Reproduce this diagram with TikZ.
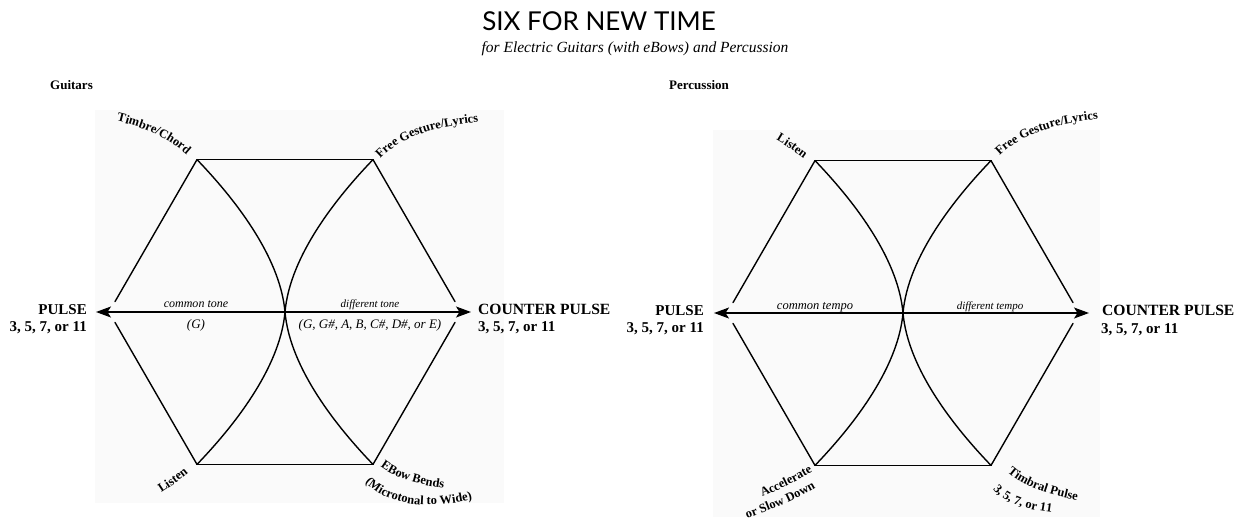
\documentclass[tikz,border=0pt]{standalone}
\usepackage{fontspec}
\setmainfont{Liberation Serif}
\newfontfamily\titlefont{Lato}
\usetikzlibrary{arrows.meta,decorations.text,calc}
\newcommand\lblfont{\bfseries\fontsize{12.5}{14}\selectfont}
\definecolor{bgc}{gray}{0.98}
\tikzset{
  edge/.style={line width=1.4pt, line cap=round},
  axis/.style={line width=1.4pt,
    {Stealth[length=15pt,width=11pt,inset=3.5pt]}-{Stealth[length=15pt,width=11pt,inset=3.5pt]}},
  pulse/.style={font=\bfseries\fontsize{15}{17}\selectfont, inner sep=0pt},
  tonelbl/.style={font=\itshape\fontsize{12}{14}\selectfont, inner sep=0pt, anchor=base},
  difflbl/.style={font=\itshape\fontsize{11}{13}\selectfont, inner sep=0pt, anchor=base},
  curvlbl/.style={decorate, decoration={text along path, text align=center, text={#1}}},
  curvlblL/.style={decorate, decoration={text along path, text align=left, text={#1}}},
  hexfig/.pic={
    \coordinate (-c) at (0,0);
    \coordinate (-tl) at (-88,152.4);
    \coordinate (-tr) at (88,152.4);
    \coordinate (-l) at (-176,0);
    \coordinate (-r) at (176,0);
    \coordinate (-bl) at (-88,-152.4);
    \coordinate (-br) at (88,-152.4);
    \coordinate (-al) at (-189,0);
    \coordinate (-ar) at (186,0);
    \draw[edge] (-tl) -- (-tr);
    \draw[edge] (-bl) -- (-br);
    \draw[edge, shorten >=12pt] (-tl) -- (-l);
    \draw[edge, shorten >=12pt] (-bl) -- (-l);
    \draw[edge, shorten >=12pt] (-tr) -- (-r);
    \draw[edge, shorten >=12pt] (-br) -- (-r);
    \draw[edge] (-tl) .. controls ($(-c)+(-53,116)$) and ($(-c)+(-5,57)$) .. (-c)
                      .. controls ($(-c)+(-5,-57)$) and ($(-c)+(-53,-116)$) .. (-bl);
    \draw[edge] (-tr) .. controls ($(-c)+(53,116)$) and ($(-c)+(5,57)$) .. (-c)
                      .. controls ($(-c)+(5,-57)$) and ($(-c)+(53,-116)$) .. (-br);
    \draw[axis] (-al) -- (-ar);
  }
}
\begin{document}
\begin{tikzpicture}[x=1pt,y=1pt]
\useasboundingbox (0,0) rectangle (1246,-517);
\fill[bgc] (95,-110) rectangle (504,-503);
\fill[bgc] (713,-130) rectangle (1100,-517);

% titles
\node[anchor=base, inner sep=0pt] (title) at (599,-30) {\titlefont\fontsize{26}{30}\selectfont SIX FOR NEW TIME};
\node[anchor=base, inner sep=0pt] (sub) at (635,-52) {\itshape\fontsize{15.5}{18}\selectfont for Electric Guitars (with eBows) and Percussion};
\node[anchor=base west, inner sep=0pt] (gtr) at (50,-89) {\bfseries\fontsize{13}{15}\selectfont Guitars};
\node[anchor=base west, inner sep=0pt] (perc) at (669,-89) {\bfseries\fontsize{13}{15}\selectfont Percussion};

% ---------- Guitars ----------
\pic (g) at (285,-312) {hexfig};
\node[pulse, anchor=base east] (gp) at (87,-314) {PULSE};
\node[pulse, anchor=base east] (gpn) at (87,-331) {3, 5, 7, or 11};
\node[pulse, anchor=base west] (gcp) at (478,-314) {\fontsize{15.6}{17}\selectfont COUNTER PULSE};
\node[pulse, anchor=base west] (gcpn) at (478,-331) {3, 5, 7, or 11};
\node[tonelbl] (gct) at (196,-307) {common tone};
\node[difflbl] (gdt) at (370,-307) {different tone};
\node[tonelbl, font=\itshape\fontsize{13}{15}\selectfont] (gg) at (196,-328) {(G)};
\node[tonelbl, font=\itshape\fontsize{13}{15}\selectfont] (gnotes) at (370,-328) {(G, G\#, A, B, C\#, D\#, or E)};

\path[curvlbl={|\lblfont|Timbre/Chord}] (108,-119) .. controls (146,-127) and (172,-139) .. (193,-161);
\path[curvlbl={|\lblfont|Free Gesture/Lyrics}] (374,-166) .. controls (394,-140) and (428,-126) .. (488,-121);
\path[curvlbl={|\lblfont|Listen}] (153,-498) .. controls (167,-489) and (181,-480) .. (196,-467);
\path[curvlbl={|\lblfont|EBow Bends}] (374,-461) .. controls (390,-476) and (412,-485) .. (452,-489);
\path[curvlbl={|\lblfont|(Microtonal to Wide)}] (356,-472) .. controls (376,-502) and (420,-515) .. (486,-496);

% ---------- Percussion ----------
\pic (p) at (903,-313) {hexfig};
\node[pulse, anchor=base east] (pp) at (704,-315) {PULSE};
\node[pulse, anchor=base east] (ppn) at (704,-332) {3, 5, 7, or 11};
\node[pulse, anchor=base west] (pcp) at (1102,-315) {\fontsize{15.6}{17}\selectfont COUNTER PULSE};
\node[pulse, anchor=base west] (pcpn) at (1101,-333) {3, 5, 7, or 11};
\node[tonelbl, font=\itshape\fontsize{12.5}{14}\selectfont] (pct) at (815,-309) {common tempo};
\node[difflbl] (pdt) at (990,-309) {different tempo};

\path[curvlbl={|\lblfont|Listen}] (767,-135) .. controls (783,-143) and (797,-153) .. (812,-165);
\path[curvlbl={|\lblfont|Free Gesture/Lyrics}] (993,-163) .. controls (1013,-138) and (1049,-123) .. (1108,-118);
\path[curvlbl={|\lblfont|Accelerate}] (754,-500) .. controls (775,-492) and (797,-482) .. (820,-467);
\path[curvlbl={|\lblfont|or Slow Down}] (738,-522) .. controls (763,-513) and (795,-501) .. (824,-483);
\path[curvlbl={|\lblfont|Timbral Pulse}] (998,-462) .. controls (1015,-484) and (1042,-495) .. (1091,-503);
\path[curvlblL={|\lblfont|3, 5, 7, or 11}] (993,-489) .. controls (1005,-504) and (1028,-512) .. (1076,-515);
\end{tikzpicture}
\end{document}
